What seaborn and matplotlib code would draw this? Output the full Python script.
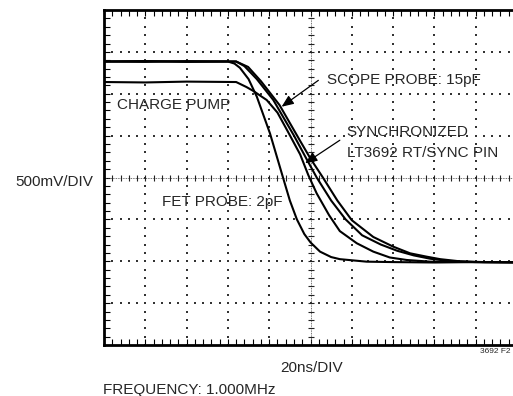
import numpy as np
import pandas as pd
import matplotlib
matplotlib.use("Agg")
import matplotlib.pyplot as plt
import seaborn as sns

fet_t = [0, 1.0, 2.0, 3.0, 3.16, 3.29, 3.5, 3.7, 4.02, 4.34, 4.5, 4.67, 4.85, 5.0, 5.23, 5.5, 5.71, 6.36, 7.0, 8.0, 9.0, 10]
fet_v = [6.77, 6.78, 6.76, 6.77, 6.72, 6.62, 6.35, 5.93, 5.05, 3.98, 3.45, 3.0, 2.65, 2.45, 2.23, 2.1, 2.05, 1.99, 1.98, 1.97, 1.98, 1.97]

pump_t = [0, 1.0, 2.0, 3.2, 3.45, 3.61, 3.94, 4.2, 4.45, 4.75, 4.95, 5.15, 5.45, 5.71, 6.12, 6.52, 6.92, 7.33, 7.9, 9.0, 10]
pump_v = [6.28, 6.27, 6.29, 6.28, 6.16, 6.07, 5.85, 5.55, 5.1, 4.55, 4.05, 3.62, 3.1, 2.72, 2.43, 2.23, 2.09, 2.03, 1.99, 1.98, 1.97]

sync_t = [0, 1.0, 2.0, 3.2, 3.4, 3.7, 4.1, 4.6, 4.9, 5.15, 5.5, 5.85, 6.25, 6.7, 7.1, 7.5, 7.9, 8.4, 9.0, 10]
sync_v = [6.77, 6.76, 6.78, 6.77, 6.66, 6.35, 5.85, 5.0, 4.45, 4.0, 3.45, 3.0, 2.62, 2.4, 2.25, 2.14, 2.06, 2.0, 1.98, 1.98]

scope_t = [0, 1.0, 2.0, 3.2, 3.49, 3.8, 4.25, 4.74, 5.0, 5.3, 5.65, 6.0, 6.52, 7.0, 7.41, 7.81, 8.14, 8.6, 9.2, 10]
scope_v = [6.77, 6.78, 6.77, 6.77, 6.64, 6.3, 5.73, 4.89, 4.45, 4.0, 3.45, 2.98, 2.58, 2.35, 2.19, 2.11, 2.05, 2.0, 1.98, 1.98]

traces = {"FET": (fet_t, fet_v), "PUMP": (pump_t, pump_v),
          "SYNC": (sync_t, sync_v), "SCOPE": (scope_t, scope_v)}

sns.set_theme(style="white")
plt.rcParams["font.family"] = ["Liberation Sans", "DejaVu Sans"]

W, H = 513, 396
fig = plt.figure(figsize=(W / 100, H / 100), dpi=100)
ax = fig.add_axes([104 / W, 1 - 345 / H, 413 / W, 335 / H])

# scope graticule: dotted grid + center cross with ticks
minor_x = np.arange(0, 10.01, 0.2)
minor_y = np.arange(0, 8.01, 0.2)
for gx in range(1, 10):
    if gx == 5:
        continue
    ax.scatter(np.full_like(minor_y, gx), minor_y, s=1.6, marker="s", color="#333333", linewidths=0, zorder=1)
for gy in range(1, 8):
    if gy == 4:
        continue
    ax.scatter(minor_x, np.full_like(minor_x, gy), s=1.6, marker="s", color="#333333", linewidths=0, zorder=1)
ax.axhline(4, color="#444444", lw=0.6, ls=(0, (1, 1)), zorder=1)
ax.axvline(5, color="#444444", lw=0.6, ls=(0, (1, 1)), zorder=1)
ax.plot(minor_x, np.full_like(minor_x, 4), ls="none", marker="|", ms=4, mew=0.8, color="#222222", zorder=1)
ax.plot(np.full_like(minor_y, 5), minor_y, ls="none", marker="_", ms=4, mew=0.8, color="#222222", zorder=1)

for name, (t, v) in traces.items():
    sns.lineplot(x=t, y=v, color="black", lw=1.5, ax=ax, zorder=3)

ax.set_xlim(0, 10)
ax.set_ylim(0, 8)
ax.set_xticks(minor_x)
ax.set_yticks(minor_y)
ax.tick_params(direction="in", length=4, width=0.8, color="black",
               labelleft=False, labelbottom=False, top=True, bottom=True, left=True, right=False)
ax.set_xlabel("")
ax.set_ylabel("")
for side in ["left", "top", "bottom", "right"]:
    ax.spines[side].set_color("black")
    ax.spines[side].set_linewidth(2.0)

fs = 11
ax.text(5.40, 6.23, "SCOPE PROBE: 15pF", fontsize=fs, va="baseline", ha="left")
ax.text(0.31, 5.63, "CHARGE PUMP", fontsize=fs, va="baseline", ha="left")
ax.text(5.88, 4.995, "SYNCHRONIZED", fontsize=fs, va="baseline", ha="left")
ax.text(5.88, 4.49, "LT3692 RT/SYNC PIN", fontsize=fs, va="baseline", ha="left")
ax.text(1.40, 3.32, "FET PROBE: 2pF", fontsize=fs, va="baseline", ha="left")

arrow = dict(arrowstyle="-|>,head_length=0.6,head_width=0.25", color="black", lw=0.9, shrinkA=0, shrinkB=0)
ax.annotate("", xy=(4.30, 5.69), xytext=(5.19, 6.32), arrowprops=arrow)
ax.annotate("", xy=(4.87, 4.34), xytext=(5.71, 4.89), arrowprops=arrow)

fig.text(93 / W, 1 - 186 / H, "500mV/DIV", fontsize=fs, ha="right", va="baseline")
fig.text(311.5 / W, 1 - 372 / H, "20ns/DIV", fontsize=fs, ha="center", va="baseline")
fig.text(103 / W, 1 - 394 / H, "FREQUENCY: 1.000MHz", fontsize=fs, ha="left", va="baseline")
fig.text(510 / W, 1 - 353 / H, "3692 F2", fontsize=6, ha="right", va="baseline")

fig.savefig("out.png", dpi=100)
